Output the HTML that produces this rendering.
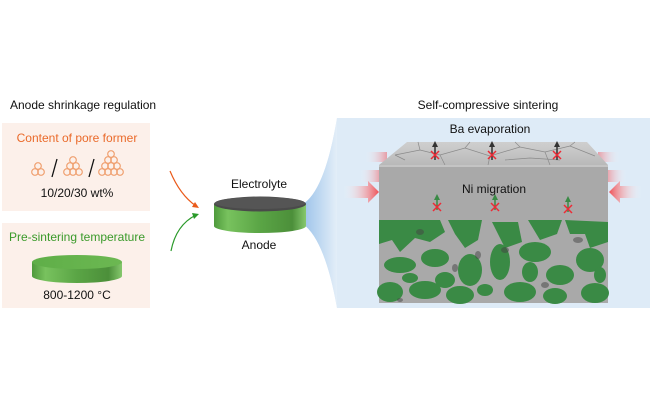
<!DOCTYPE html>
<html><head><meta charset="utf-8"><style>
body{margin:0;width:650px;height:400px;background:#fff;overflow:hidden}
svg{display:block}
text{font-family:"Liberation Sans",sans-serif}
</style></head><body>
<svg width="650" height="400" viewBox="0 0 650 400" xmlns="http://www.w3.org/2000/svg">
<defs>
<linearGradient id="gs" x1="0" x2="1">
<stop offset="0" stop-color="#4f9a3c"/><stop offset="0.15" stop-color="#78c25e"/><stop offset="0.5" stop-color="#5aa545"/><stop offset="0.85" stop-color="#4c8f3a"/><stop offset="1" stop-color="#86c86e"/></linearGradient>
<linearGradient id="gt" x1="0" x2="1"><stop offset="0" stop-color="#5fae48"/><stop offset="1" stop-color="#6cb852"/></linearGradient>
<linearGradient id="fl" x1="0" x2="1"><stop offset="0" stop-color="#9cc3ea"/><stop offset="1" stop-color="#e3eef8"/></linearGradient>
<linearGradient id="rl" x1="0" x2="1"><stop offset="0" stop-color="#ffffff" stop-opacity="0"/><stop offset="1" stop-color="#ef4f55"/></linearGradient>
<linearGradient id="rr" x1="1" x2="0"><stop offset="0" stop-color="#ffffff" stop-opacity="0"/><stop offset="1" stop-color="#ef4f55"/></linearGradient>
<linearGradient id="tf" x1="0" y1="0" x2="0" y2="1"><stop offset="0" stop-color="#cfcfcf"/><stop offset="1" stop-color="#b9b9b9"/></linearGradient>
</defs>

<text x="10" y="109" font-size="12" fill="#111">Anode shrinkage regulation</text>
<rect x="2" y="123" width="148" height="88" fill="#fcf0ea"/>
<text x="77" y="142" font-size="12" fill="#ea6a2a" text-anchor="middle">Content of pore former</text>
<g fill="none" stroke="#efa070" stroke-width="1.2">
<circle cx="38" cy="166" r="3.3"/><circle cx="35" cy="172" r="3.3"/><circle cx="41" cy="172" r="3.3"/>
<circle cx="73" cy="160" r="3.3"/><circle cx="70" cy="166" r="3.3"/><circle cx="76" cy="166" r="3.3"/><circle cx="67" cy="172" r="3.3"/><circle cx="73" cy="172" r="3.3"/><circle cx="79" cy="172" r="3.3"/>
<circle cx="111" cy="154" r="3.3"/><circle cx="108" cy="160" r="3.3"/><circle cx="114" cy="160" r="3.3"/><circle cx="105" cy="166" r="3.3"/><circle cx="111" cy="166" r="3.3"/><circle cx="117" cy="166" r="3.3"/><circle cx="102" cy="172" r="3.3"/><circle cx="108" cy="172" r="3.3"/><circle cx="114" cy="172" r="3.3"/><circle cx="120" cy="172" r="3.3"/>
</g>
<line x1="52" y1="177" x2="57" y2="159" stroke="#111" stroke-width="1.3"/>
<line x1="89" y1="177" x2="94" y2="159" stroke="#111" stroke-width="1.3"/>
<text x="77" y="197" font-size="12" fill="#111" text-anchor="middle">10/20/30 wt%</text>

<rect x="2" y="223" width="148" height="85" fill="#fcf0ea"/>
<text x="77" y="241" font-size="12" fill="#3a9a2a" text-anchor="middle">Pre-sintering temperature</text>
<path d="M32 262 L32 276 A45 7 0 0 0 122 276 L122 262 Z" fill="url(#gs)"/>
<ellipse cx="77" cy="262" rx="45" ry="7" fill="url(#gt)"/>
<text x="77" y="299" font-size="12" fill="#111" text-anchor="middle">800-1200 °C</text>

<path d="M170 171 Q180 195 196 206" fill="none" stroke="#ea5a1a" stroke-width="1.2"/>
<path d="M192 207 L199 208 L195 202 Z" fill="#ea5a1a"/>
<path d="M171 251 Q176 225 196 215" fill="none" stroke="#2a9a2a" stroke-width="1.2"/>
<path d="M192 213 L199 214 L194 219 Z" fill="#2a9a2a"/>

<path d="M303 204 Q325 190 337 118 L650 118 L650 308 L337 308 Q325 240 303 224 Z" fill="#deebf7"/>
<path d="M303 204 Q325 190 337 118 L337 308 Q325 240 303 224 Z" fill="url(#fl)"/>

<text x="259" y="188" font-size="12" fill="#111" text-anchor="middle">Electrolyte</text>
<path d="M214 204 L214 226 A46 7 0 0 0 306 226 L306 204 Z" fill="url(#gs)"/>
<ellipse cx="260" cy="204" rx="46" ry="7.5" fill="#4a4a4a"/>
<ellipse cx="260" cy="203" rx="45" ry="6" fill="#555"/>
<text x="259" y="249" font-size="12" fill="#111" text-anchor="middle">Anode</text>

<text x="488" y="109" font-size="12" fill="#111" text-anchor="middle">Self-compressive sintering</text>
<text x="490" y="133" font-size="12" fill="#111" text-anchor="middle">Ba evaporation</text>

<rect x="365" y="152" width="22" height="10" fill="url(#rl)" opacity="0.5"/>
<rect x="598" y="152" width="22" height="10" fill="url(#rr)" opacity="0.5"/>
<rect x="360" y="170" width="22" height="12" fill="url(#rl)" opacity="0.6"/>
<rect x="605" y="170" width="22" height="12" fill="url(#rr)" opacity="0.6"/>
<path d="M343 186 L368 186 L368 181 L379 192 L368 203 L368 198 L343 198 Z" fill="url(#rl)"/>
<path d="M642 186 L620 186 L620 181 L609 192 L620 203 L620 198 L642 198 Z" fill="url(#rr)"/>

<path d="M407 142 L587 142 L608 165 L379 165 Z" fill="url(#tf)"/>
<g fill="none" stroke="#8a8a8a" stroke-width="0.7">
<path d="M395 155 L420 150 L440 155 L465 148 L490 156 L520 147 L545 152 L570 146 L595 156"/>
<path d="M420 150 L418 142 M440 155 L445 165 M465 148 L470 142 M490 156 L488 165 M520 147 L515 142 M545 152 L550 165 M570 146 L575 142 M405 160 L395 155 M505 160 L530 158 L560 160"/>
</g>
<rect x="379" y="165" width="229" height="138" fill="#a9a9a9"/>
<rect x="379" y="165" width="229" height="2" fill="#c4c4c4"/>
<text x="494" y="193" font-size="12" fill="#111" text-anchor="middle">Ni migration</text>
<g fill="#3a8a45">
<path d="M379 220 L440 220 L445 232 L430 242 L415 238 L400 252 L392 240 L379 244 Z"/>
<path d="M448 220 L482 220 L478 240 L465 248 L455 234 Z"/>
<path d="M492 222 L518 222 L522 242 L505 248 Z"/>
<path d="M528 220 L562 220 L557 234 L540 240 Z"/>
<path d="M565 220 L608 222 L608 242 L590 248 L585 234 L570 234 Z"/>
<ellipse cx="400" cy="265" rx="16" ry="8"/><ellipse cx="435" cy="258" rx="14" ry="9"/>
<ellipse cx="470" cy="270" rx="12" ry="16"/><ellipse cx="500" cy="262" rx="10" ry="18"/>
<ellipse cx="535" cy="252" rx="16" ry="10"/><ellipse cx="560" cy="275" rx="14" ry="10"/>
<ellipse cx="590" cy="260" rx="14" ry="12"/><ellipse cx="390" cy="292" rx="13" ry="10"/>
<ellipse cx="425" cy="290" rx="16" ry="9"/><ellipse cx="460" cy="295" rx="14" ry="9"/>
<ellipse cx="520" cy="292" rx="16" ry="10"/><ellipse cx="555" cy="296" rx="12" ry="8"/>
<ellipse cx="595" cy="293" rx="14" ry="10"/><ellipse cx="445" cy="280" rx="10" ry="8"/>
<ellipse cx="410" cy="278" rx="8" ry="5"/><ellipse cx="530" cy="272" rx="8" ry="10"/>
<ellipse cx="485" cy="290" rx="8" ry="6"/><ellipse cx="600" cy="275" rx="6" ry="8"/>
</g>
<g fill="#444" opacity="0.5">
<ellipse cx="420" cy="232" rx="4" ry="3"/><ellipse cx="505" cy="250" rx="4" ry="3"/><ellipse cx="578" cy="240" rx="5" ry="3"/><ellipse cx="478" cy="255" rx="3" ry="4"/>
<ellipse cx="455" cy="268" rx="3" ry="4"/><ellipse cx="545" cy="285" rx="4" ry="3"/><ellipse cx="400" cy="300" rx="3" ry="2"/>
</g>
<g stroke-width="1.5">
<g stroke="#333"><line x1="435" y1="160" x2="435" y2="145"/><line x1="492" y1="160" x2="492" y2="145"/><line x1="557" y1="160" x2="557" y2="145"/></g>
<g stroke="#3a8a45"><line x1="437" y1="210" x2="437" y2="198"/><line x1="495" y1="210" x2="495" y2="198"/><line x1="568" y1="212" x2="568" y2="200"/></g>
<g stroke="#ee2a35"><path d="M431 151 L439 159 M439 151 L431 159"/><path d="M488 151 L496 159 M496 151 L488 159"/><path d="M553 151 L561 159 M561 151 L553 159"/>
<path d="M433 203 L441 211 M441 203 L433 211"/><path d="M491 203 L499 211 M499 203 L491 211"/><path d="M564 205 L572 213 M572 205 L564 213"/></g>
</g>
<g><path d="M432 147 L435 141 L438 147Z" fill="#333"/><path d="M489 147 L492 141 L495 147Z" fill="#333"/><path d="M554 147 L557 141 L560 147Z" fill="#333"/>
<path d="M434 200 L437 194 L440 200Z" fill="#3a8a45"/><path d="M492 200 L495 194 L498 200Z" fill="#3a8a45"/><path d="M565 202 L568 196 L571 202Z" fill="#3a8a45"/></g>
</svg>
</body></html>
